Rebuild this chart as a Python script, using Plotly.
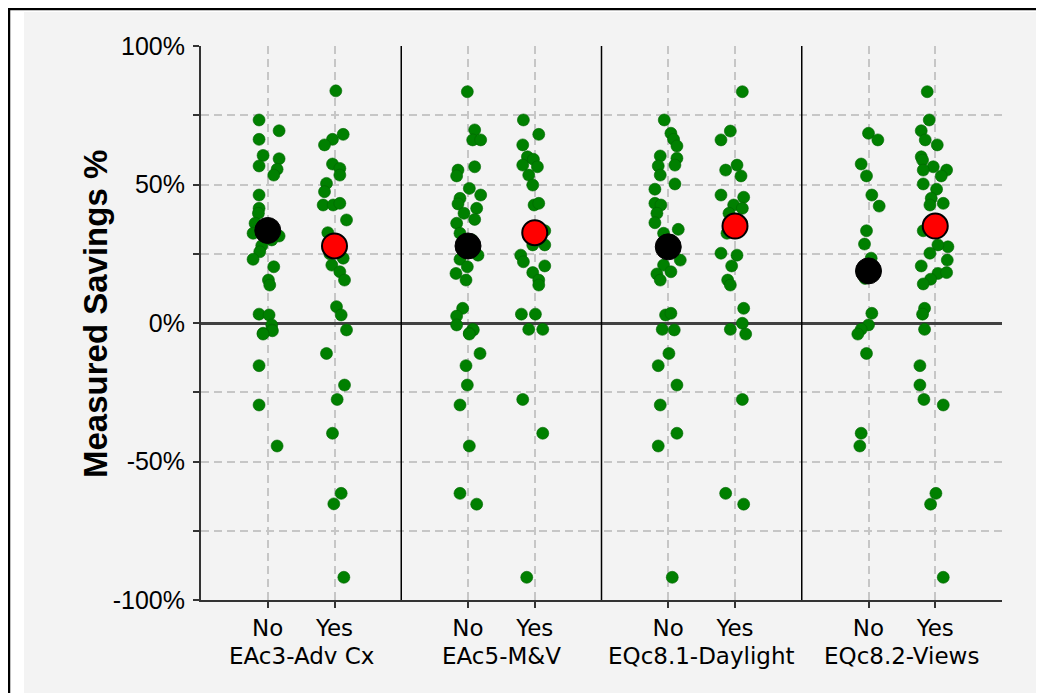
import plotly.graph_objects as go

# ---------------- data ----------------
groups = ["EAc3-Adv Cx", "EAc5-M&V", "EQc8.1-Daylight", "EQc8.2-Views"]
levels = ["No", "Yes"]

# measured savings (%) and horizontal jitter (in category units) per group/level
g1_no_vals = [73.3, 69.4, 66.3, 60.5, 59.3, 56.7, 55.5, 53.4, 46.2, 41.4, 39.6, 36.0, 32.4, 31.4,
              34.0, 30.0, 27.9, 25.7, 23.0, 20.3, 15.5, 13.7, 3.2, 2.9, -0.7, -2.5, -2.8, -3.7,
              -4.0, -15.4, -29.6, -44.4]
g1_no_jit = [-0.13, 0.17, -0.13, -0.07, 0.17, -0.13, 0.14, 0.09, -0.13, -0.13, -0.14, -0.19, -0.22, 0.17,
             -0.09, 0.06, -0.09, -0.12, -0.22, 0.09, 0.01, 0.03, -0.13, 0.02, 0.06, 0.06, 0.07, -0.07,
             -0.07, -0.13, -0.13, 0.14]
g1_yes_vals = [83.8, 68.1, 66.3, 64.3, 57.4, 55.8, 53.4, 50.4, 47.4, 42.6, 42.6, 43.2, 37.2, 32.6,
               28.0, 25.0, 23.4, 20.9, 18.5, 15.5, 5.9, 2.9, -2.5, -11.0, -22.4, -27.6, -39.8,
               -61.5, -65.3, -91.8]
g1_yes_jit = [0.02, 0.13, -0.03, -0.15, -0.03, 0.08, 0.08, -0.12, -0.15, -0.17, -0.02, 0.08, 0.18, -0.10,
              0.0, -0.07, 0.13, -0.04, 0.08, 0.15, 0.03, 0.10, 0.18, -0.12, 0.15, 0.04, -0.03,
              0.10, -0.01, 0.14]

g2_no_vals = [83.5, 69.7, 66.1, 66.1, 56.4, 55.2, 53.1, 48.6, 46.2, 45.0, 43.0, 41.4, 39.6, 37.4,
              36.0, 32.4, 30.0, 24.5, 23.0, 20.3, 17.9, 15.5, 5.3, 2.5, -0.7, -2.3, -2.5, -3.7,
              -4.0, -11.0, -15.4, -22.4, -29.6, -44.4, -61.5, -65.4]
g2_no_jit = [-0.01, 0.10, 0.07, 0.19, 0.10, -0.15, -0.17, 0.02, 0.19, -0.12, -0.15, 0.13, -0.06, 0.10,
             -0.17, -0.12, 0.06, 0.15, -0.12, -0.01, -0.18, -0.03, -0.08, -0.17, -0.17, 0.07, 0.08, 0.02,
             0.02, 0.18, -0.03, -0.01, -0.12, 0.02, -0.12, 0.13]
g2_yes_vals = [73.3, 68.1, 64.3, 60.0, 59.1, 57.0, 56.4, 53.4, 49.8, 42.6, 43.2, 33.3, 28.2, 28.2,
               24.5, 22.1, 20.6, 18.2, 15.5, 13.7, 3.2, 3.2, -2.3, -2.3, -27.6, -39.8, -91.8]
g2_yes_jit = [-0.17, 0.06, -0.18, -0.11, -0.02, -0.18, 0.04, -0.09, -0.03, -0.01, 0.06, 0.15, 0.15, -0.03,
              -0.21, -0.17, 0.15, -0.03, 0.06, 0.06, -0.20, 0.01, -0.09, 0.12, -0.18, 0.12, -0.12]

g3_no_vals = [73.3, 68.5, 66.3, 63.9, 60.3, 59.5, 56.7, 57.0, 53.4, 50.2, 48.3, 43.2, 42.6, 39.6,
              36.2, 33.8, 32.4, 28.0, 22.7, 20.9, 18.5, 17.7, 15.5, 2.9, 3.5, -2.3, -2.5, -11.0,
              -15.4, -22.4, -29.6, -39.8, -44.4, -91.8]
g3_no_jit = [-0.06, 0.04, 0.08, 0.13, -0.12, 0.13, -0.15, 0.10, -0.12, 0.10, -0.20, -0.20, -0.11, -0.17,
             -0.20, 0.15, -0.07, 0.02, 0.18, -0.07, 0.04, -0.17, -0.12, -0.04, 0.04, -0.09, 0.09, 0.01,
             -0.15, 0.13, -0.12, 0.13, -0.15, 0.06]
g3_yes_vals = [83.5, 69.3, 66.1, 57.0, 55.2, 53.1, 46.2, 45.4, 42.6, 41.4, 39.6, 32.4, 36.0, 25.2,
               24.5, 20.6, 15.5, 13.7, 5.3, -0.1, -2.3, -4.0, -27.6, -61.5, -65.4]
g3_yes_jit = [0.11, -0.07, -0.21, 0.03, -0.14, 0.09, -0.21, 0.13, -0.02, 0.11, -0.09, -0.12, 0.10, -0.21,
              0.03, -0.05, -0.11, -0.07, 0.13, 0.11, -0.07, 0.16, 0.11, -0.14, 0.13]

g4_no_vals = [68.5, 66.1, 57.4, 53.1, 46.2, 42.2, 33.3, 28.5, 23.4, 19.0, 16.1, 3.5, -0.7, -2.3,
              -4.0, -11.0, -39.8, -44.4]
g4_no_jit = [0.0, 0.14, -0.11, -0.03, 0.05, 0.16, -0.03, -0.06, 0.04, 0.0, -0.05, 0.05, 0.0, -0.11,
             -0.16, -0.03, -0.11, -0.13]
g4_yes_vals = [83.5, 73.3, 69.4, 66.1, 64.3, 60.0, 58.8, 56.4, 55.2, 55.2, 53.1, 50.2, 48.3, 45.0,
               43.2, 42.6, 33.3, 27.5, 28.2, 25.2, 22.7, 20.6, 17.9, 18.2, 15.8, 14.1, 5.3, 3.2,
               -2.3, -15.4, -22.4, -27.6, -29.6, -61.5, -65.4, -91.8]
g4_yes_jit = [-0.12, -0.09, -0.21, -0.15, 0.03, -0.21, -0.19, -0.03, 0.17, -0.18, 0.09, -0.18, 0.02, -0.06,
              0.12, -0.08, -0.18, 0.19, 0.04, -0.08, 0.18, -0.21, 0.04, 0.17, -0.07, -0.18, -0.16, -0.19,
              -0.16, -0.23, -0.23, -0.17, 0.12, 0.01, -0.07, 0.12]

mean_no = [33.4, 27.8, 27.5, 18.8]
mean_yes = [27.8, 32.6, 35.0, 35.0]

y_tick_vals = [-100, -75, -50, -25, 0, 25, 50, 75, 100]
y_tick_text = ["-100%", "", "-50%", "", "0%", "", "50%", "", "100%"]

# ---------------- figure ----------------
series = [
    (g1_no_vals, g1_no_jit, g1_yes_vals, g1_yes_jit),
    (g2_no_vals, g2_no_jit, g2_yes_vals, g2_yes_jit),
    (g3_no_vals, g3_no_jit, g3_yes_vals, g3_yes_jit),
    (g4_no_vals, g4_no_jit, g4_yes_vals, g4_yes_jit),
]

GREEN = "#008000"
fig = go.Figure()

pts_x, pts_y = [], []
for gi, (nv, nj, yv, yj) in enumerate(series):
    base = gi * 3
    pts_x += [base + 1 + j for j in nj]
    pts_y += list(nv)
    pts_x += [base + 2 + j for j in yj]
    pts_y += list(yv)

fig.add_trace(go.Scatter(
    x=pts_x, y=pts_y, mode="markers",
    marker=dict(size=12, color=GREEN, line=dict(width=0.6, color="#006400")),
    hoverinfo="y", showlegend=False))

fig.add_trace(go.Scatter(
    x=[gi * 3 + 1 for gi in range(len(groups))], y=mean_no, mode="markers",
    marker=dict(size=26, color="black", line=dict(width=1, color="black")),
    showlegend=False))
fig.add_trace(go.Scatter(
    x=[gi * 3 + 2 for gi in range(len(groups))], y=mean_yes, mode="markers",
    marker=dict(size=25, color="#ff0000", line=dict(width=2, color="black")),
    showlegend=False))

# the page body has an 8px margin, so the figure is sized to fit the window
W, H = 1036, 685
L, R, T, B = 193, 42, 38, 93
pw, ph = W - L - R, H - T - B


def px_x(px):
    return (px - L) / pw


def px_y(py):
    return (H - B - py) / ph


shapes = [
    # light gray chart panel
    dict(type="rect", xref="paper", yref="paper", x0=px_x(16), x1=px_x(1060), y0=px_y(720), y1=px_y(4),
         fillcolor="#f3f3f3", line=dict(width=0), layer="below"),
    # outer black frame (extends beyond the window)
    dict(type="rect", xref="paper", yref="paper", x0=px_x(1), x1=px_x(1070), y0=px_y(730), y1=px_y(1),
         fillcolor="rgba(0,0,0,0)", line=dict(width=2.5, color="black"), layer="below"),
]
for gi in range(1, len(groups)):
    shapes.append(dict(type="line", xref="x", yref="paper", x0=gi * 3, x1=gi * 3, y0=0, y1=1,
                       line=dict(width=1.5, color="black"), layer="above"))

annotations = [
    dict(text="<b>Measured Savings %</b>", textangle=-90, xref="paper", yref="paper",
         x=px_x(87), y=px_y(306), xanchor="center", yanchor="middle", showarrow=False,
         font=dict(family="Liberation Sans, Arial", size=33, color="black")),
]
for gi, g in enumerate(groups):
    annotations.append(dict(text=g, xref="x", yref="paper", x=gi * 3 + 1.5, y=px_y(648),
                            xanchor="center", yanchor="middle", showarrow=False,
                            font=dict(family="DejaVu Sans", size=23, color="black")))

xtv, xtt = [], []
for gi in range(len(groups)):
    for li, lv in enumerate(levels):
        xtv.append(gi * 3 + 1 + li)
        xtt.append(lv)

fig.update_layout(
    width=W, height=H,
    margin=dict(l=L, r=R, t=T, b=B),
    paper_bgcolor="white", plot_bgcolor="white",
    shapes=shapes, annotations=annotations,
    xaxis=dict(range=[0, 12], tickvals=xtv, ticktext=xtt, ticks="outside", ticklen=6,
               tickcolor="#333", tickwidth=1.5,
               showgrid=True, gridcolor="#c6c6c6", gridwidth=1.5, griddash="8px,5px",
               showline=True, linecolor="#333", linewidth=2, zeroline=False,
               tickfont=dict(family="DejaVu Sans", size=23, color="black")),
    yaxis=dict(range=[-100, 100], tickvals=y_tick_vals, ticktext=y_tick_text, ticks="outside",
               ticklen=6, tickcolor="#333", tickwidth=1.5, ticklabelstandoff=3,
               showgrid=True, gridcolor="#c6c6c6", gridwidth=1.5, griddash="8px,5px",
               showline=True, linecolor="#333", linewidth=2,
               zeroline=True, zerolinecolor="#404040", zerolinewidth=3,
               tickfont=dict(family="Liberation Sans, Arial", size=25, color="black")),
)

fig.write_html("out.html")
